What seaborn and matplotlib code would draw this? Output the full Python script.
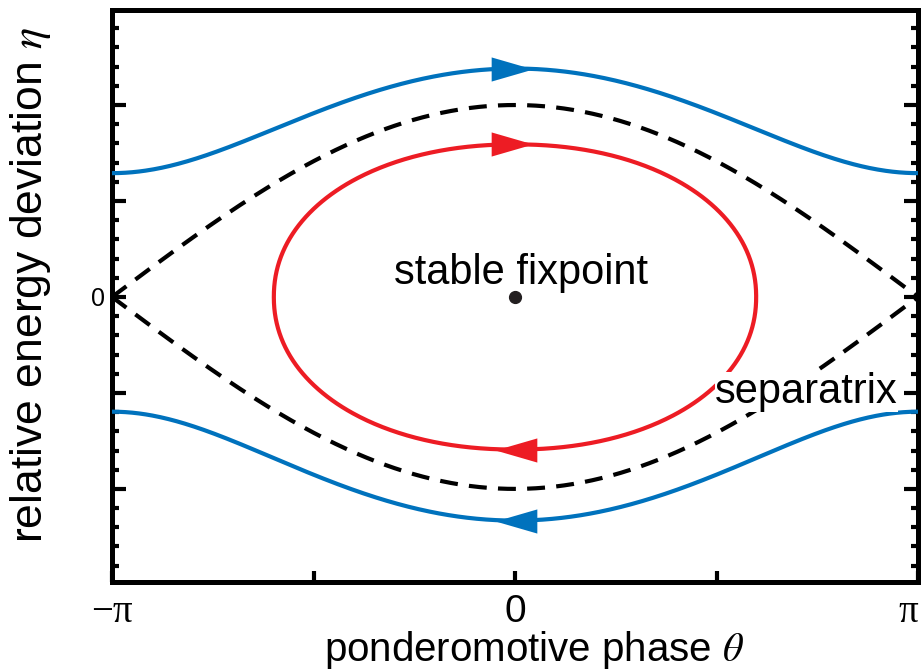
import numpy as np
import pandas as pd
import matplotlib
matplotlib.use("Agg")
import matplotlib.pyplot as plt
from matplotlib.path import Path
from matplotlib.ticker import FixedLocator, FixedFormatter, MultipleLocator
import seaborn as sns

# ---- phase-space portrait of the ponderomotive pendulum ----
theta_ticks = [-np.pi, -np.pi / 2, 0.0, np.pi / 2, np.pi]
theta_tick_labels = ["\u2212\u03c0", "", "0", "", "\u03c0"]
eta_major_ticks = [-2, -1, 0, 1, 2]
eta_tick_labels = ["", "", "0", "", ""]

separatrix_height = 2.0            # eta of the separatrix at theta = 0
passing_crests = [2.38, -2.33]     # eta of the passing orbits at theta = 0
trapped_half_width = 1.88          # theta half-width of the trapped orbit
trapped_half_height = 1.59         # eta half-height of the trapped orbit
trapped_shape = 2.1                # superellipse exponent of the trapped orbit

# direction arrows: orbit, theta of arrow centre, heading
arrow_orbit = ["passing_up", "trapped_up", "trapped_down", "passing_down"]
arrow_theta = [-0.02, -0.02, 0.01, 0.01]
arrow_heading = ["right", "right", "left", "left"]

fixpoint = (0.0, 0.0)

blue = "#0072BD"
red = "#ED1C24"

sns.set_style("white")
plt.rcParams["font.family"] = ["Liberation Sans", "DejaVu Sans"]
plt.rcParams["mathtext.fontset"] = "stix"
plt.rcParams["text.color"] = "black"
plt.rcParams["axes.labelcolor"] = "black"
plt.rcParams["xtick.color"] = "black"
plt.rcParams["ytick.color"] = "black"

# ---- build the orbits ----
K = separatrix_height ** 2 / 4.0
theta = np.linspace(-np.pi, np.pi, 600)


def passing_eta(crest, th):
    H = crest ** 2 / 2.0 - K
    return np.sign(crest) * np.sqrt(2.0 * (H + K * np.cos(th)))


def trapped_eta(th, sign):
    r = np.abs(th / trapped_half_width) ** trapped_shape
    return sign * trapped_half_height * (1 - r) ** (1 / trapped_shape)


frames = []
for i, crest in enumerate(passing_crests):
    frames.append(pd.DataFrame({"theta": theta, "eta": passing_eta(crest, theta),
                                "orbit": "passing", "branch": f"p{i}"}))
for sgn, name in [(1, "s_up"), (-1, "s_dn")]:
    frames.append(pd.DataFrame({"theta": theta,
                                "eta": sgn * separatrix_height * np.cos(theta / 2),
                                "orbit": "separatrix", "branch": name}))
t = np.linspace(0, 2 * np.pi, 800)
p = 2.0 / trapped_shape
frames.append(pd.DataFrame({
    "theta": trapped_half_width * np.sign(np.sin(t)) * np.abs(np.sin(t)) ** p,
    "eta": trapped_half_height * np.sign(np.cos(t)) * np.abs(np.cos(t)) ** p,
    "orbit": "trapped", "branch": "t"}))
orbits = pd.concat(frames, ignore_index=True)

# ---- figure ----
fig = plt.figure(figsize=(9.21, 6.70), dpi=100)
ax = fig.add_axes([112 / 921, 88 / 670, 806 / 921, 572 / 670])

sns.lineplot(data=orbits, x="theta", y="eta", hue="orbit", style="orbit",
             units="branch", estimator=None, sort=False,
             palette={"passing": blue, "trapped": red, "separatrix": "black"},
             dashes={"passing": "", "trapped": "", "separatrix": (4.3, 2.7)},
             linewidth=3.0, legend=False, ax=ax, zorder=3)

# arrowheads showing the direction of motion
head_right = Path([(-1, -0.58), (1, 0), (-1, 0.58), (-1, -0.58)],
                  [Path.MOVETO, Path.LINETO, Path.LINETO, Path.CLOSEPOLY])
head_left = Path([(1, -0.58), (-1, 0), (1, 0.58), (1, -0.58)],
                 [Path.MOVETO, Path.LINETO, Path.LINETO, Path.CLOSEPOLY])
for orb, th, hd in zip(arrow_orbit, arrow_theta, arrow_heading):
    if orb == "passing_up":
        y, c = passing_eta(passing_crests[0], th), blue
    elif orb == "passing_down":
        y, c = passing_eta(passing_crests[1], th), blue
    else:
        y = trapped_eta(th, 1 if orb == "trapped_up" else -1)
        c = red
    ax.plot([th], [y], marker=head_right if hd == "right" else head_left,
            markersize=30, color=c, markeredgewidth=0, linestyle="none", zorder=5)

ax.plot([fixpoint[0]], [fixpoint[1]], marker="o", markersize=8.5,
        color="#231f20", linestyle="none", zorder=5)

ax.text(0.05, 0.14, "stable fixpoint", ha="center", va="baseline",
        fontsize=30, zorder=6)
ax.text(2.27, -1.10, "separatrix", ha="center", va="baseline", fontsize=30,
        zorder=6, bbox=dict(facecolor="white", edgecolor="none", pad=0.0))

# ---- axes ----
ax.set_xlim(-np.pi, np.pi)
ax.set_ylim(-2.97, 2.99)
ax.xaxis.set_major_locator(FixedLocator(theta_ticks))
ax.xaxis.set_major_formatter(FixedFormatter(theta_tick_labels))
ax.yaxis.set_major_locator(FixedLocator(eta_major_ticks))
ax.yaxis.set_major_formatter(FixedFormatter(eta_tick_labels))
ax.yaxis.set_minor_locator(MultipleLocator(0.2))

for sp in ax.spines.values():
    sp.set_visible(True)
    sp.set_linewidth(3.6)
    sp.set_color("black")

ax.tick_params(axis="both", which="both", direction="in", width=3,
               color="black", top=False, right=True, left=True, bottom=True)
ax.tick_params(axis="y", which="major", length=10, labelsize=18, pad=5)
ax.tick_params(axis="y", which="minor", length=5)
ax.tick_params(axis="x", which="major", length=8, labelsize=28, pad=9)

xt = ax.get_xticklabels()
for lbl in xt:
    if "\u03c0" in lbl.get_text():
        lbl.set_fontfamily(["Liberation Serif", "DejaVu Serif"])
xt[-1].set_horizontalalignment("right")

ax.set_xlabel(r"ponderomotive phase $\theta$", fontsize=29)
ax.xaxis.set_label_coords(0.524, -0.082)
ax.set_ylabel(r"relative energy deviation $\eta$", fontsize=32)
ax.yaxis.set_label_coords(-0.073, 0.519)

fig.savefig("out.png", dpi=100)
